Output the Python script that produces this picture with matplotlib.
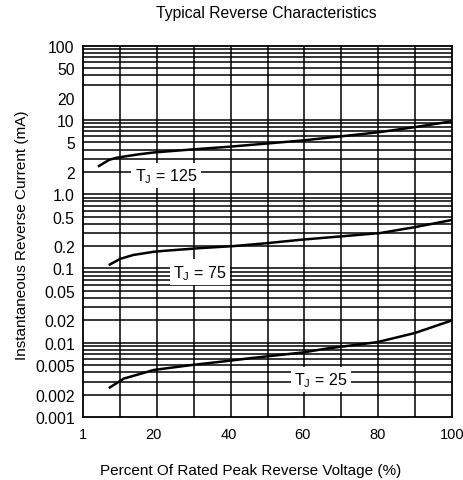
import matplotlib
matplotlib.use("Agg")
import matplotlib.pyplot as plt
import numpy as np

plt.rcParams['font.family'] = ['Liberation Sans', 'DejaVu Sans']
plt.rcParams['mathtext.fontset'] = 'custom'
plt.rcParams['mathtext.rm'] = 'Liberation Sans'

# Data
x_125 = [5.3, 8, 10, 16, 20, 30, 40, 50, 60, 70, 80, 90, 100]
y_125 = [2.4, 2.9, 3.1, 3.45, 3.65, 4.0, 4.35, 4.8, 5.3, 6.0, 6.8, 8.0, 9.6]

x_75 = [8.2, 11, 14.5, 20, 23.5, 32.4, 41.3, 50.3, 59.2, 70, 80.7, 90, 100]
y_75 = [0.113, 0.135, 0.152, 0.168, 0.174, 0.188, 0.20, 0.219, 0.243, 0.27, 0.30, 0.36, 0.45]

x_25 = [8.2, 12, 16.3, 20, 30, 40, 46, 60, 66, 80, 90, 100]
y_25 = [0.0025, 0.0033, 0.0038, 0.0043, 0.005, 0.0057, 0.0062, 0.0074, 0.0083, 0.0102, 0.0135, 0.02]

x_ticks = [1, 20, 40, 60, 80, 100]
x_ticklabels = ['1', '20', '40', '60', '80', '100']
y_ticks = [100, 50, 20, 10, 5, 2, 1, 0.5, 0.2, 0.1, 0.05, 0.02, 0.01, 0.005, 0.002, 0.001]
y_ticklabels = ['100', '50', '20', '10', '5', '2', '1.0', '0.5', '0.2', '0.1',
                '0.05', '0.02', '0.01', '0.005', '0.002', '0.001']

labels = ['T$_\\mathregular{J}$ = 125', 'T$_\\mathregular{J}$ = 75', 'T$_\\mathregular{J}$ = 25']
label_x = [23.3, 32.4, 64.8]
label_y = [1.78, 0.089, 0.0032]

fig = plt.figure(figsize=(4.63, 4.81), dpi=100)
ax = fig.add_axes([83/463, 1-418/481, (452-83)/463, (418-46.7)/481])
ax.set_yscale('log')
ax.set_xlim(1, 100)
ax.set_ylim(0.001, 100)

# grid lines
for xv in np.linspace(1, 100, 11)[1:-1]:
    ax.axvline(xv, color='black', lw=1.1, zorder=1)
for n in range(-3, 2):
    for k in range(1, 10):
        v = k * 10.0**n
        if abs(v - 20) < 1e-9 or abs(v - 0.001) < 1e-12:
            continue
        ax.axhline(v, color='black', lw=1.1, zorder=1)

ax.plot(x_125, y_125, color='black', lw=1.8, zorder=3)
ax.plot(x_75, y_75, color='black', lw=1.8, zorder=3)
ax.plot(x_25, y_25, color='black', lw=1.8, zorder=3)

for t, xv, yv in zip(labels, label_x, label_y):
    ax.text(xv, yv, t, ha='center', va='center', fontsize=11.5, zorder=4,
            bbox=dict(facecolor='white', edgecolor='none', pad=2.5))

ax.set_xticks(x_ticks)
ax.set_xticklabels(x_ticklabels, fontsize=10.5)
ax.set_yticks(y_ticks)
ax.set_yticklabels(y_ticklabels, fontsize=11.3)
ax.yaxis.set_minor_locator(matplotlib.ticker.NullLocator())
ax.tick_params(axis='both', length=0)
ax.tick_params(axis='x', pad=7)
ax.tick_params(axis='y', pad=6)
for s in ax.spines.values():
    s.set_linewidth(1.3)
    s.set_color('black')

fig.text(266/463, 1-13.5/481, 'Typical Reverse Characteristics', fontsize=11.3,
         ha='center', va='center')
ax.set_xlabel('Percent Of Rated Peak Reverse Voltage (%)', fontsize=11)
ax.xaxis.set_label_coords(0.455, -0.125)
fig.text(22/463, 1-235/481, 'Instantaneous Reverse Current (mA)', fontsize=11,
         rotation=90, ha='center', va='center')

fig.savefig('out.png', dpi=100)
